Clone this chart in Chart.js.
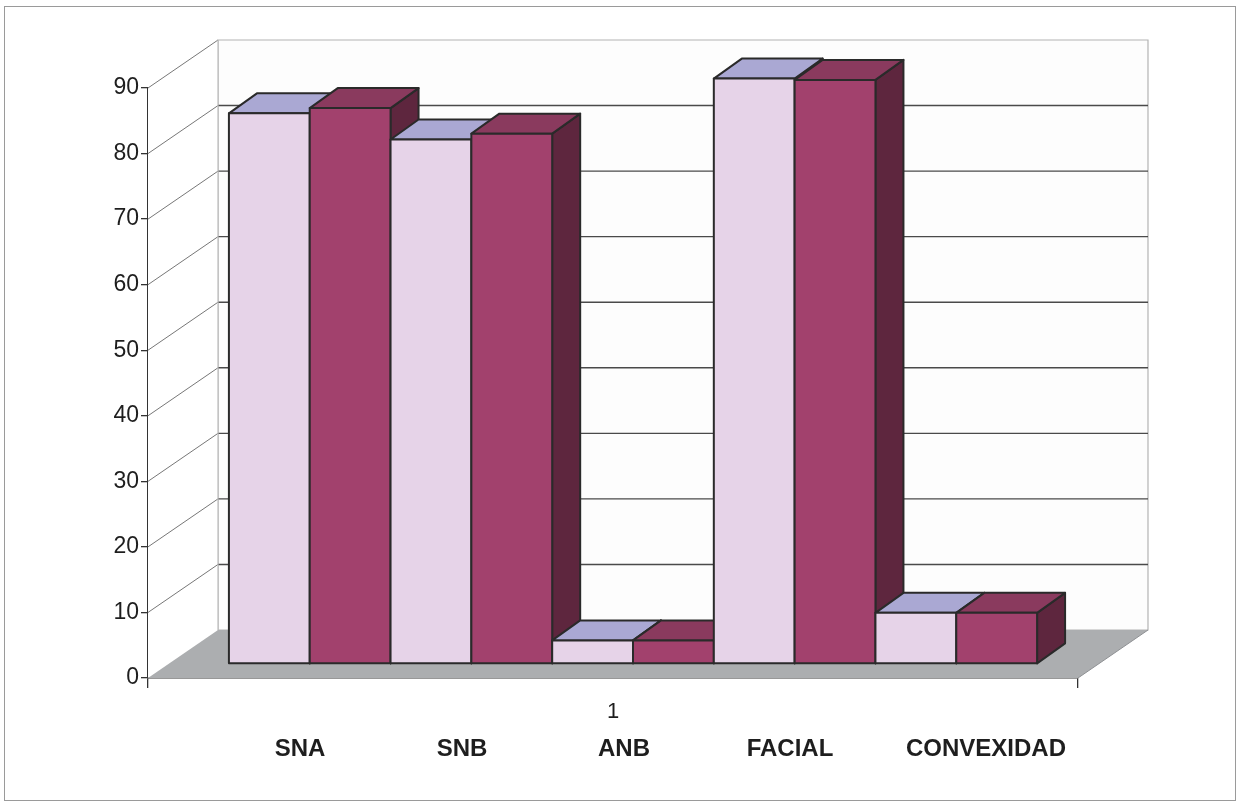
<!DOCTYPE html>
<html>
<head>
<meta charset="utf-8">
<title>SNA SNB ANB FACIAL CONVEXIDAD</title>
<script src="https://cdn.jsdelivr.net/npm/chart.js@4.4.1/dist/chart.umd.min.js"></script>
<style>
  html, body { margin: 0; padding: 0; background: #ffffff; }
  #wrap { position: relative; width: 1239px; height: 807px; }
  canvas { display: block; }
</style>
</head>
<body>
<div id="wrap"><canvas id="chart" width="1239" height="807"></canvas></div>
<script>
// Chart data
const category = ['1'];
const measures = ['SNA', 'SNB', 'ANB', 'FACIAL', 'CONVEXIDAD'];
const groupLight = [84, 80, 3.6, 89.3, 7.8];
const groupDark = [84.8, 80.9, 3.6, 89.1, 7.8];
const yTickValues = [0, 10, 20, 30, 40, 50, 60, 70, 80, 90];

// Look of the two series (front, top, side faces)
const LIGHT = { front: '#e6d3e8', top: '#aaa8d3', side: '#8c88ba' };
const DARK = { front: '#a2416d', top: '#8a3a5e', side: '#5e263e' };
const OUTLINE = '#2a2a2a';
const FONT = "'Liberation Sans', Arial, sans-serif";

// Oblique projection offsets
const WALL_DEPTH = { x: 70, y: -48 };  // front edge of floor -> back wall
const BAR_SHIFT = { x: 20, y: -14 };   // front edge of floor -> front of bars
const BAR_DEPTH = { x: 28, y: -20 };   // front of bars -> back of bars

// Horizontal centres of the series-name row
const nameCentres = [300, 462, 624, 790, 986];

const datasets = [];
measures.forEach((name, i) => {
  datasets.push({
    label: name,
    data: [groupLight[i]],
    backgroundColor: LIGHT.front,
    faces: LIGHT
  });
  datasets.push({
    label: name,
    data: [groupDark[i]],
    backgroundColor: DARK.front,
    faces: DARK
  });
});

function poly(ctx, pts, fill, stroke, lw) {
  ctx.beginPath();
  ctx.moveTo(pts[0][0], pts[0][1]);
  for (let i = 1; i < pts.length; i++) ctx.lineTo(pts[i][0], pts[i][1]);
  ctx.closePath();
  if (fill) { ctx.fillStyle = fill; ctx.fill(); }
  if (stroke) { ctx.strokeStyle = stroke; ctx.lineWidth = lw || 1; ctx.stroke(); }
}

// Walls, floor and the extruded bars
const boxPlugin = {
  id: 'box3d',
  beforeDatasetsDraw(chart) {
    const ctx = chart.ctx;
    const area = chart.chartArea;
    const ys = chart.scales.y;
    const L = area.left, R = area.right;
    const y0 = ys.getPixelForValue(ys.min);
    const yT = ys.getPixelForValue(ys.max);
    const dx = WALL_DEPTH.x, dy = WALL_DEPTH.y;

    ctx.save();
    // back wall
    poly(ctx, [[L + dx, y0 + dy], [R + dx, y0 + dy], [R + dx, yT + dy], [L + dx, yT + dy]], '#fdfdfd', '#b4b4b4', 1.2);
    // side wall
    poly(ctx, [[L, y0], [L + dx, y0 + dy], [L + dx, yT + dy], [L, yT]], '#ffffff', null);

    // grid lines: back wall horizontals + side wall diagonals
    yTickValues.forEach(v => {
      const py = ys.getPixelForValue(v);
      if (v > ys.min && v < ys.max) {
        ctx.beginPath();
        ctx.moveTo(L + dx, py + dy);
        ctx.lineTo(R + dx, py + dy);
        ctx.strokeStyle = '#4a4a4a';
        ctx.lineWidth = 1.4;
        ctx.stroke();
      }
      if (v > ys.min) {
        ctx.beginPath();
        ctx.moveTo(L, py);
        ctx.lineTo(L + dx, py + dy);
        ctx.strokeStyle = '#777777';
        ctx.lineWidth = 1;
        ctx.stroke();
      }
    });
    // left edge of back wall
    ctx.beginPath();
    ctx.moveTo(L + dx, y0 + dy);
    ctx.lineTo(L + dx, yT + dy);
    ctx.strokeStyle = '#bdbdbd';
    ctx.lineWidth = 1.2;
    ctx.stroke();

    // floor
    poly(ctx, [[L, y0], [R, y0], [R + dx, y0 + dy], [L + dx, y0 + dy]], '#acaeb0', null);
    ctx.beginPath();
    ctx.moveTo(R, y0); ctx.lineTo(R + dx, y0 + dy);
    ctx.strokeStyle = '#8e9093'; ctx.lineWidth = 1; ctx.stroke();

    // bars, painted left to right so nearer blocks cover farther faces
    const bars = [];
    chart.data.datasets.forEach((ds, di) => {
      const meta = chart.getDatasetMeta(di);
      if (!meta.visible) return;
      meta.data.forEach(el => bars.push({ el, faces: ds.faces }));
    });
    bars.sort((a, b) => a.el.x - b.el.x);

    ctx.translate(BAR_SHIFT.x, BAR_SHIFT.y);
    ctx.lineJoin = 'round';
    bars.forEach(({ el, faces }) => {
      const p = el.getProps(['x', 'y', 'base', 'width'], true);
      const l = p.x - p.width / 2, r = p.x + p.width / 2;
      const t = Math.min(p.y, p.base), b = Math.max(p.y, p.base);
      const bx = BAR_DEPTH.x, by = BAR_DEPTH.y;
      poly(ctx, [[r, t], [r + bx, t + by], [r + bx, b + by], [r, b]], faces.side, OUTLINE, 2);
      poly(ctx, [[l, t], [l + bx, t + by], [r + bx, t + by], [r, t]], faces.top, OUTLINE, 2);
      poly(ctx, [[l, t], [r, t], [r, b], [l, b]], faces.front, OUTLINE, 2);
    });
    ctx.restore();
    return false;
  },
  afterDraw(chart) {
    const ctx = chart.ctx;
    ctx.save();
    // series names row
    ctx.font = 'bold 24px ' + FONT;
    ctx.fillStyle = '#1e1e1e';
    ctx.textAlign = 'center';
    ctx.textBaseline = 'middle';
    measures.forEach((name, i) => ctx.fillText(name, nameCentres[i], 749));
    // outer frame
    ctx.strokeStyle = '#9a9a9a';
    ctx.lineWidth = 1;
    ctx.strokeRect(4.5, 6.5, 1231, 794);
    ctx.restore();
  }
};

new Chart(document.getElementById('chart'), {
  type: 'bar',
  data: { labels: category, datasets },
  options: {
    responsive: false,
    animation: false,
    devicePixelRatio: 1,
    categoryPercentage: 0.869,
    barPercentage: 1,
    layout: { padding: { left: 0, right: 161, top: 88, bottom: 0 } },
    plugins: { legend: { display: false }, tooltip: { enabled: false } },
    scales: {
      x: {
        z: 1,
        offset: true,
        grid: { offset: true, drawOnChartArea: false, drawTicks: true, tickLength: 10, color: '#333333', lineWidth: 1.3 },
        border: { display: true, color: '#333333', width: 1.5 },
        ticks: { color: '#1e1e1e', font: { family: FONT, size: 22 }, padding: 11 },
        afterFit(scale) { scale.height = 129; }
      },
      y: {
        z: 1,
        min: 0,
        max: 90,
        afterBuildTicks(scale) { scale.ticks = yTickValues.map(v => ({ value: v })); },
        grid: { drawOnChartArea: false, drawTicks: true, tickLength: 7, color: '#333333', lineWidth: 1.3 },
        border: { display: true, color: '#333333', width: 1.5 },
        ticks: { color: '#1e1e1e', font: { family: FONT, size: 23 }, padding: 2 },
        afterFit(scale) { scale.width = 148; }
      }
    }
  },
  plugins: [boxPlugin]
});
</script>
</body>
</html>
